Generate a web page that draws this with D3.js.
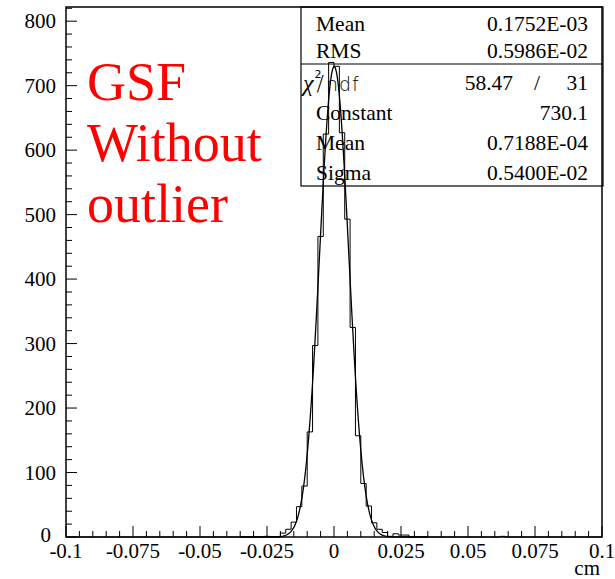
<!DOCTYPE html>
<html><head><meta charset="utf-8">
<script src="https://cdn.jsdelivr.net/npm/d3@7"></script>
<style>body{margin:0;background:#fff}svg{display:block}</style>
</head><body>
<script>
// ---- data ----
const xDomain = [-0.1, 0.1];
const yDomain = [0, 822];
const binWidth = 0.002;
// counts of the 100 bins from -0.1 to 0.1 (width 0.002)
const counts = [
 0,0,0,0,0,0,0,0,0,0,
 0,0,0,0,0,0,0,0,0,0,
 0,0,0,0,0,0,0,0,0,0,
 0,0,0,0,0,0,0,1,0,0,
 6,12,23,47,79,163,297,466,625,736,
 730,627,493,325,157,83,48,22,12,7,
 1,5,3,3,0,0,0,0,0,0,
 0,0,0,0,0,0,0,0,0,0,
 0,1,0,0,0,0,0,0,0,0,
 0,0,0,0,0,0,0,0,0,0
];
const xTicks = [-0.1,-0.075,-0.05,-0.025,0,0.025,0.05,0.075,0.1];
const xTickLabels = ["-0.1","-0.075","-0.05","-0.025","0","0.025","0.05","0.075","0.1"];
const yTicks = [0,100,200,300,400,500,600,700,800];
const fitConstant = 730.1, fitMean = 0.7188e-4, fitSigma = 0.5400e-2;
const statsTop = [["Mean","0.1752E-03"],["RMS","0.5986E-02"]];
const statsFit = [["Constant","730.1"],["Mean","0.7188E-04"],["Sigma","0.5400E-02"]];
const chi2 = "58.47", ndf = "31";
const titleLines = ["GSF","Without","outlier"];

// ---- layout ----
const W = 615, H = 579;
const L = 66, R = 602, T = 7, B = 537;
const svg = d3.select("body").append("svg").attr("width", W).attr("height", H);
const x = d3.scaleLinear().domain(xDomain).range([L, R]);
const y = d3.scaleLinear().domain(yDomain).range([B, T]);
const serif = "'Liberation Serif','Times New Roman',serif";
const sans = "'DejaVu Sans',sans-serif";

// stats box
const bx0 = 301, bx1 = 603, by0 = 7, by1 = 186, bdiv = 64;
svg.append("rect").attr("x", bx0).attr("y", by0).attr("width", bx1-bx0).attr("height", by1-by0)
  .attr("fill","#fff").attr("stroke","#000").attr("stroke-width",1.2);
svg.append("line").attr("x1",bx0).attr("x2",bx1).attr("y1",bdiv).attr("y2",bdiv).attr("stroke","#000").attr("stroke-width",1.2);
const st = svg.append("g").attr("font-family", serif).attr("font-size", 21.5).attr("fill","#000");
const rowY = [24, 51, 83, 113, 143, 173];
statsTop.forEach((d,i)=>{
  st.append("text").attr("x",316).attr("y",rowY[i]+7).text(d[0]);
  st.append("text").attr("x",588).attr("y",rowY[i]+7).attr("text-anchor","end").text(d[1]);
});
statsFit.forEach((d,i)=>{
  st.append("text").attr("x",316).attr("y",rowY[i+3]+7).text(d[0]);
  st.append("text").attr("x",588).attr("y",rowY[i+3]+7).attr("text-anchor","end").text(d[1]);
});
// chi2/ndf row
const cy = rowY[2]+7;
const ct = st.append("text").attr("x",303).attr("y",cy+1);
ct.append("tspan").attr("font-style","italic").attr("font-size",24).text("χ");
ct.append("tspan").attr("font-size",11).attr("font-family",sans).attr("dy",-13).attr("dx",1).text("2");
ct.append("tspan").attr("font-family",sans).attr("font-size",22).attr("font-weight",300).attr("dy",13).attr("dx",-5).text("/");
ct.append("tspan").attr("font-family",sans).attr("font-size",19).attr("font-weight",300).attr("dx",2).attr("letter-spacing",1).text("ndf");
st.append("text").attr("x",513).attr("y",cy).attr("text-anchor","end").text(chi2);
st.append("text").attr("x",537).attr("y",cy).attr("text-anchor","middle").text("/");
st.append("text").attr("x",588).attr("y",cy).attr("text-anchor","end").text(ndf);

// frame
svg.append("rect").attr("x",L).attr("y",T).attr("width",R-L).attr("height",B-T)
  .attr("fill","none").attr("stroke","#000").attr("stroke-width",1.5);

// ticks
const g = svg.append("g").attr("stroke","#000").attr("stroke-width",1);
d3.range(-0.1, 0.10001, 0.005).forEach(v=>{
  const major = Math.abs(Math.round(v/0.025)*0.025 - v) < 1e-9;
  g.append("line").attr("x1",x(v)).attr("x2",x(v)).attr("y1",B).attr("y2",B-(major?11:6));
});
d3.range(0, 821, 20).forEach(v=>{
  const major = v % 100 === 0;
  g.append("line").attr("x1",L).attr("x2",L+(major?11:6)).attr("y1",y(v)).attr("y2",y(v));
});
const lab = svg.append("g").attr("font-family", serif).attr("font-size", 21).attr("fill","#000");
xTicks.forEach((v,i)=>{
  lab.append("text").attr("x",x(v)).attr("y",558).attr("text-anchor","middle").text(xTickLabels[i]);
});
yTicks.forEach(v=>{
  lab.append("text").attr("x", v===0?51:56).attr("y", y(v)+ (v===0?5:7)).attr("text-anchor","end").text(v);
});
lab.append("text").attr("x",600).attr("y",575).attr("text-anchor","end").text("cm");

// histogram step outline
let path = d3.path();
path.moveTo(x(xDomain[0]), y(0));
counts.forEach((c,i)=>{
  const lo = xDomain[0] + i*binWidth, hi = lo + binWidth;
  path.lineTo(x(lo), y(c));
  path.lineTo(x(hi), y(c));
});
path.lineTo(x(xDomain[1]), y(0));
svg.append("path").attr("d", path.toString()).attr("fill","none").attr("stroke","#000").attr("stroke-width",1);

// gaussian fit curve
const fx = d3.range(-0.035, 0.0351, 0.0005);
const line = d3.line().x(d=>x(d)).y(d=>y(fitConstant*Math.exp(-0.5*((d-fitMean)/fitSigma)**2)));
svg.append("path").attr("d", line(fx)).attr("fill","none").attr("stroke","#000").attr("stroke-width",1.3);

// title text
const tt = svg.append("g").attr("font-family", serif).attr("font-size", 54).attr("fill","#ff0000");
titleLines.forEach((t,i)=>{
  tt.append("text").attr("x",87).attr("y",100 + i*61).text(t);
});
</script>
</body></html>
